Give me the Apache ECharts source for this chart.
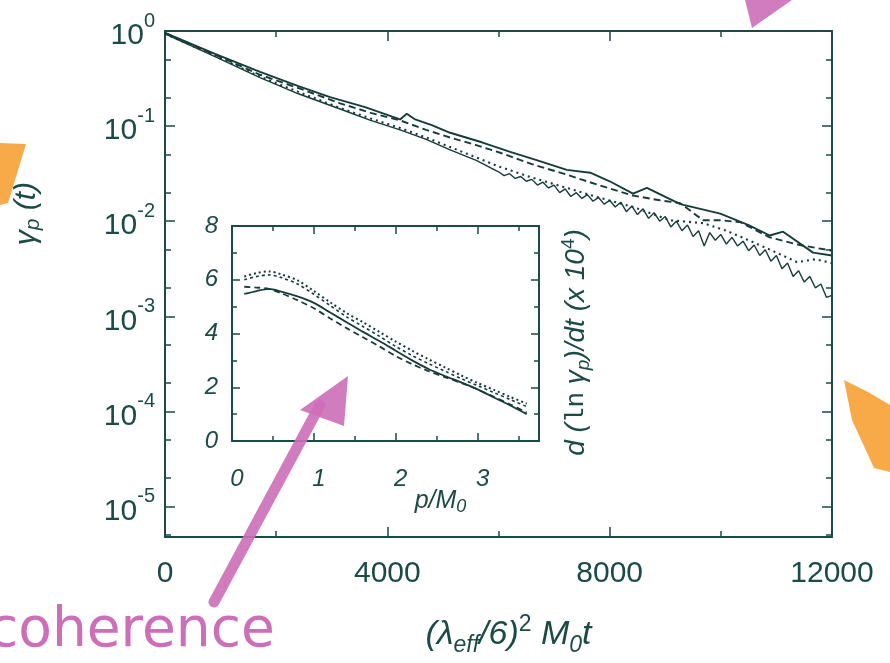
<!DOCTYPE html>
<html>
<head>
<meta charset="utf-8">
<script src="https://cdn.jsdelivr.net/npm/echarts@6/dist/echarts.min.js"></script>
<style>
  html, body { margin: 0; padding: 0; background: #fff; }
  #chart { width: 890px; height: 663px; }
</style>
</head>
<body>
<div id="chart"></div>
<script>
// main panel, gamma_p(t): values are log10(gamma)
const tSolid = [0, 900, 1710, 2400, 2970, 3600, 4230, 4350, 4500, 4800, 5130, 5700, 6210, 6700, 7230, 7650, 8000, 8420, 8670, 9270, 9990, 10500, 10880, 11120, 11660, 12000];
const logSolid = [-0.02, -0.24, -0.43, -0.58, -0.695, -0.80, -0.93, -0.87, -0.93, -0.99, -1.07, -1.17, -1.27, -1.36, -1.46, -1.49, -1.58, -1.71, -1.65, -1.82, -1.92, -2.04, -2.15, -2.11, -2.33, -2.36];

const tDashed = [0, 900, 1710, 2400, 3150, 3700, 4230, 4700, 5130, 5600, 6030, 6600, 7230, 7800, 8420, 8900, 9270, 9680, 10000, 10350, 10880, 11420, 12000];
const logDashed = [-0.02, -0.25, -0.46, -0.60, -0.76, -0.86, -0.94, -1.04, -1.12, -1.20, -1.28, -1.40, -1.51, -1.62, -1.73, -1.78, -1.81, -1.99, -1.99, -2.01, -2.17, -2.25, -2.31];

const tDotted = [0, 900, 1710, 2400, 3150, 3700, 4230, 4700, 5130, 5600, 6030, 6600, 7230, 7800, 8420, 9090, 9680, 10100, 10580, 11000, 11370, 11700, 12000];
const logDotted = [-0.03, -0.26, -0.48, -0.64, -0.81, -0.92, -1.02, -1.12, -1.22, -1.33, -1.43, -1.54, -1.65, -1.75, -1.85, -1.99, -2.02, -2.10, -2.22, -2.33, -2.43, -2.40, -2.44];

const tNoisy = [0, 900, 1710, 2400, 3150, 3700, 4230, 4700, 5130, 5600,
  6000, 6100, 6200, 6300, 6400, 6500, 6600, 6700, 6800, 6900,
  7000, 7100, 7200, 7300, 7400, 7500, 7600, 7700, 7800, 7900,
  8000, 8100, 8200, 8300, 8400, 8500, 8600, 8700, 8800, 8900,
  9000, 9100, 9200, 9300, 9400, 9500, 9600, 9700, 9800, 9900,
  10000, 10100, 10200, 10300, 10400, 10500, 10600, 10700, 10800, 10900,
  11000, 11100, 11200, 11300, 11400, 11500, 11600, 11700, 11800, 11900, 12000];
const logNoisy = [-0.03, -0.27, -0.49, -0.66, -0.82, -0.94, -1.04, -1.14, -1.25, -1.36,
  -1.48, -1.52, -1.50, -1.55, -1.53, -1.58, -1.56, -1.62, -1.59, -1.65,
  -1.62, -1.70, -1.66, -1.74, -1.70, -1.76, -1.72, -1.79, -1.75, -1.82,
  -1.78, -1.85, -1.80, -1.90, -1.84, -1.93, -1.87, -1.97, -1.91, -2.00,
  -1.95, -2.06, -2.00, -2.10, -2.04, -2.16, -2.10, -2.26, -2.12, -2.20,
  -2.14, -2.24, -2.17, -2.26, -2.21, -2.31, -2.25, -2.36, -2.30, -2.42,
  -2.36, -2.50, -2.44, -2.58, -2.52, -2.64, -2.58, -2.70, -2.66, -2.80, -2.78];

const decades = [-5, -4, -3, -2, -1, 0];

// inset: d(ln gamma_p)/dt (x 10^4) against p/M0
const pInset = [0.15, 0.3, 0.45, 0.6, 0.8, 1.0, 1.2, 1.4, 1.6, 1.8, 2.0, 2.2, 2.4, 2.6, 2.8, 3.0, 3.2, 3.4, 3.6];
const rateSolid = [5.47, 5.58, 5.66, 5.56, 5.38, 5.14, 4.78, 4.42, 4.06, 3.72, 3.36, 3.00, 2.68, 2.42, 2.18, 1.92, 1.62, 1.32, 1.00];
const rateDashed = [5.74, 5.71, 5.66, 5.50, 5.24, 4.94, 4.56, 4.20, 3.86, 3.52, 3.16, 2.86, 2.60, 2.38, 2.16, 1.92, 1.64, 1.36, 1.06];
const rateDotted = [6.12, 6.25, 6.31, 6.20, 5.98, 5.58, 5.16, 4.76, 4.42, 4.06, 3.70, 3.36, 3.04, 2.74, 2.44, 2.16, 1.90, 1.64, 1.39];
const rateFine = [6.00, 6.12, 6.18, 6.08, 5.84, 5.46, 5.04, 4.62, 4.26, 3.90, 3.52, 3.18, 2.88, 2.60, 2.32, 2.06, 1.80, 1.54, 1.28];

const INK = '#1c4a46';
const LINE = '#173b39';
const FONT = '"Liberation Sans", Arial, sans-serif';

const pts = (xs, ys) => xs.map((x, i) => [x, ys[i]]);

// minor ticks of the log axis at 2 and 5 in each decade
const minorLog = [];
for (let k = -6; k < 0; k++) {
  [2, 5].forEach(m => {
    const v = k + Math.log10(m);
    if (v > -5.32) minorLog.push(v);
  });
}

const chart = echarts.init(document.getElementById('chart'));

const hidden = { show: false };
const frameLine = { show: true, onZero: false, lineStyle: { color: INK, width: 2 } };
const noLine = { show: false, onZero: false };
const tickStyle = { color: INK, width: 1.5 };

const option = {
  backgroundColor: '#ffffff',
  animation: false,
  grid: [
    { left: 165, right: 58, top: 31, bottom: 126, show: false },
    { left: 232, top: 226, width: 307, height: 215, show: true, backgroundColor: '#ffffff', borderWidth: 0 }
  ],
  xAxis: [
    {
      gridIndex: 0, type: 'value', min: 0, max: 12000, interval: 4000, position: 'bottom',
      axisLine: frameLine,
      axisTick: { inside: true, length: 10, lineStyle: tickStyle },
      minorTick: { show: true, splitNumber: 2, length: 6, lineStyle: tickStyle },
      splitLine: hidden, minorSplitLine: hidden,
      axisLabel: { color: INK, fontSize: 30, fontFamily: FONT, margin: 22, formatter: v => String(v) },
      name: '{n|(λ}{sub|eff}{n|/6)}{sup|2}{n| M}{sub|0}{n|t}',
      nameLocation: 'middle', nameGap: 76,
      nameTextStyle: {
        padding: [0, 0, 0, 20],
        rich: {
          n: { fontSize: 34, fontStyle: 'italic', fontFamily: FONT, color: INK, lineHeight: 44, verticalAlign: 'middle' },
          sub: { fontSize: 23, fontStyle: 'italic', fontFamily: FONT, color: INK, lineHeight: 22, verticalAlign: 'bottom' },
          sup: { fontSize: 23, fontFamily: FONT, color: INK, lineHeight: 22, verticalAlign: 'top' }
        }
      }
    },
    {
      gridIndex: 0, type: 'value', min: 0, max: 12000, interval: 4000, position: 'top',
      axisLine: frameLine,
      axisTick: { inside: true, length: 10, lineStyle: tickStyle },
      minorTick: { show: true, splitNumber: 2, length: 6, lineStyle: tickStyle },
      splitLine: hidden, minorSplitLine: hidden, axisLabel: hidden
    },
    {
      gridIndex: 1, type: 'value', min: 0, max: 3.75, interval: 1, position: 'bottom',
      axisLine: frameLine,
      axisTick: { inside: true, length: 8, lineStyle: tickStyle },
      minorTick: { show: true, splitNumber: 2, length: 5, lineStyle: tickStyle },
      splitLine: hidden, minorSplitLine: hidden,
      axisLabel: { color: INK, fontSize: 24, fontStyle: 'italic', fontFamily: FONT, margin: 26, padding: [0, 0, 0, 10], showMaxLabel: false },
      name: '{n|p/M}{sub|0}', nameLocation: 'middle', nameGap: 45, nameMoveOverlap: false,
      nameTextStyle: {
        padding: [0, 0, 0, 110],
        rich: {
          n: { fontSize: 25, fontStyle: 'italic', fontFamily: FONT, color: INK, lineHeight: 30, verticalAlign: 'middle' },
          sub: { fontSize: 18, fontStyle: 'italic', fontFamily: FONT, color: INK, lineHeight: 18, verticalAlign: 'bottom' }
        }
      }
    },
    {
      gridIndex: 1, type: 'value', min: 0, max: 3.75, interval: 1, position: 'top',
      axisLine: frameLine,
      axisTick: { inside: true, length: 8, lineStyle: tickStyle },
      minorTick: { show: true, splitNumber: 2, length: 5, lineStyle: tickStyle },
      splitLine: hidden, minorSplitLine: hidden, axisLabel: hidden
    }
  ],
  yAxis: [
    {
      gridIndex: 0, type: 'value', min: -5.32, max: 0, position: 'left',
      axisLine: frameLine,
      axisTick: { inside: true, length: 10, customValues: decades, lineStyle: tickStyle },
      splitLine: hidden,
      axisLabel: {
        customValues: decades, margin: 10,
        formatter: v => '{b|10}{s|' + v + '}',
        rich: {
          b: { fontSize: 30, fontFamily: FONT, color: INK, lineHeight: 40, verticalAlign: 'bottom' },
          s: { fontSize: 20, fontFamily: FONT, color: INK, lineHeight: 20, verticalAlign: 'top' }
        }
      }
    },
    {
      gridIndex: 0, type: 'value', min: -5.32, max: 0, position: 'left',
      axisLine: noLine,
      axisTick: { inside: true, length: 6, customValues: minorLog, lineStyle: tickStyle },
      splitLine: hidden, axisLabel: hidden
    },
    {
      gridIndex: 0, type: 'value', min: -5.32, max: 0, position: 'right',
      axisLine: frameLine,
      axisTick: { inside: true, length: 10, customValues: decades, lineStyle: tickStyle },
      splitLine: hidden, axisLabel: hidden
    },
    {
      gridIndex: 0, type: 'value', min: -5.32, max: 0, position: 'right',
      axisLine: noLine,
      axisTick: { inside: true, length: 6, customValues: minorLog, lineStyle: tickStyle },
      splitLine: hidden, axisLabel: hidden
    },
    {
      gridIndex: 1, type: 'value', min: 0, max: 8, interval: 2, position: 'left',
      axisLine: frameLine,
      axisTick: { inside: true, length: 8, lineStyle: tickStyle },
      minorTick: { show: true, splitNumber: 2, length: 5, lineStyle: tickStyle },
      splitLine: hidden, minorSplitLine: hidden,
      axisLabel: { color: INK, fontSize: 24, fontStyle: 'italic', fontFamily: FONT, margin: 14 }
    },
    {
      gridIndex: 1, type: 'value', min: 0, max: 8, interval: 2, position: 'right',
      axisLine: frameLine,
      axisTick: { inside: true, length: 8, lineStyle: tickStyle },
      minorTick: { show: true, splitNumber: 2, length: 5, lineStyle: tickStyle },
      splitLine: hidden, minorSplitLine: hidden, axisLabel: hidden,
      name: '{n|d (}{m|ln}{n| γ}{sub|p}{n|)/dt (x 10}{sup|4}{n|)}',
      nameLocation: 'middle', nameRotate: 90, nameGap: 20,
      nameTextStyle: {
        padding: [0, 18, 0, 0],
        rich: {
          n: { fontSize: 28, fontStyle: 'italic', fontFamily: FONT, color: INK, lineHeight: 34, verticalAlign: 'middle' },
          m: { fontSize: 26, fontFamily: '"Liberation Mono", monospace', color: INK, lineHeight: 34, verticalAlign: 'middle' },
          sub: { fontSize: 19, fontStyle: 'italic', fontFamily: FONT, color: INK, lineHeight: 18, verticalAlign: 'bottom' },
          sup: { fontSize: 19, fontFamily: FONT, color: INK, lineHeight: 18, verticalAlign: 'top' }
        }
      }
    }
  ],
  series: [
    { type: 'line', xAxisIndex: 0, yAxisIndex: 0, data: pts(tSolid, logSolid), showSymbol: false, lineStyle: { color: LINE, width: 1.9 } },
    { type: 'line', xAxisIndex: 0, yAxisIndex: 0, data: pts(tDashed, logDashed), showSymbol: false, lineStyle: { color: LINE, width: 1.9, type: [7, 4] } },
    { type: 'line', xAxisIndex: 0, yAxisIndex: 0, data: pts(tDotted, logDotted), showSymbol: false, lineStyle: { color: LINE, width: 2.1, type: [2, 4] } },
    { type: 'line', xAxisIndex: 0, yAxisIndex: 0, data: pts(tNoisy, logNoisy), showSymbol: false, lineStyle: { color: LINE, width: 1.4 } },

    { type: 'line', xAxisIndex: 2, yAxisIndex: 4, data: pts(pInset, rateSolid), smooth: 0.3, showSymbol: false, lineStyle: { color: LINE, width: 1.8 } },
    { type: 'line', xAxisIndex: 2, yAxisIndex: 4, data: pts(pInset, rateDashed), smooth: 0.3, showSymbol: false, lineStyle: { color: LINE, width: 1.8, type: [6, 4] } },
    { type: 'line', xAxisIndex: 2, yAxisIndex: 4, data: pts(pInset, rateDotted), smooth: 0.3, showSymbol: false, lineStyle: { color: LINE, width: 2, type: [2, 3] } },
    { type: 'line', xAxisIndex: 2, yAxisIndex: 4, data: pts(pInset, rateFine), smooth: 0.3, showSymbol: false, lineStyle: { color: LINE, width: 1.6, type: [3, 3] } }
  ],
  graphic: [
    {
      type: 'text', left: 12, top: 182, rotation: Math.PI / 2, z: 10,
      style: {
        text: '{g|γ}{sub|p}{g| (t)}',
        rich: {
          g: { fontSize: 30, fontStyle: 'italic', fontFamily: FONT, fill: INK, lineHeight: 34, verticalAlign: 'middle' },
          sub: { fontSize: 21, fontStyle: 'italic', fontFamily: FONT, fill: INK, lineHeight: 20, verticalAlign: 'bottom' }
        }
      }
    },
    // marker scribbles on the scanned page
    { type: 'polygon', z: 20, shape: { points: [[745, 0], [792, 0], [752, 28]] }, style: { fill: '#cd6eb9', opacity: 0.9 } },
    { type: 'polyline', z: 20, shape: { points: [[214, 602], [320, 405]] }, style: { stroke: '#cd6eb9', lineWidth: 11, lineCap: 'round', opacity: 0.9 } },
    { type: 'polygon', z: 20, shape: { points: [[300, 410], [348, 376], [344, 426]] }, style: { fill: '#cd6eb9', opacity: 0.9 } },
    { type: 'polygon', z: 20, shape: { points: [[0, 143], [26, 144], [8, 203], [0, 205]] }, style: { fill: '#f8a43e', opacity: 0.95 } },
    { type: 'polygon', z: 20, shape: { points: [[844, 380], [868, 392], [890, 405], [890, 472], [874, 468], [852, 420]] }, style: { fill: '#f8a43e', opacity: 0.95 } },
    { type: 'text', z: 20, left: -12, top: 604, style: { text: 'coherence', fontSize: 55, fontFamily: '"DejaVu Sans", sans-serif', fill: '#cd6eb9' } }
  ]
};

chart.setOption(option);
</script>
</body>
</html>
